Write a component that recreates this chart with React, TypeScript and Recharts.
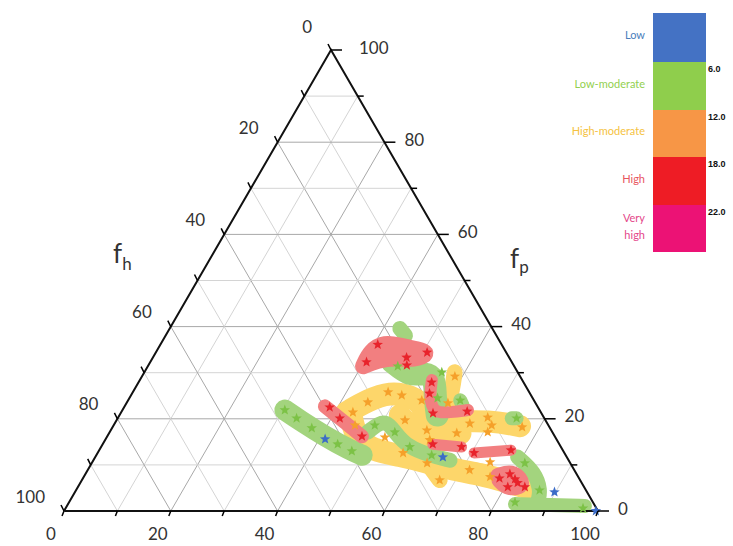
import React from 'react';
import { ScatterChart, Scatter, XAxis, YAxis } from 'recharts';

// ternary points are [f_h, f_p]; the third (bottom) share is 100 - f_h - f_p
type Pt = [number, number];

const tickValues = [0, 10, 20, 30, 40, 50, 60, 70, 80, 90, 100];
const tickLabels = ['0', '', '20', '', '40', '', '60', '', '80', '', '100'];

const levelNames = ['Low', 'Low-moderate', 'High-moderate', 'High', 'Very high'];
const levelColors = ['#4472c4', '#8fce4c', '#f79646', '#ee1c25', '#ec1275'];
const levelTextColors = ['#4a7ebb', '#92d050', '#f5c242', '#e8555e', '#e4478a'];
const thresholds = ['6.0', '12.0', '18.0', '22.0'];

const greenTracks: Pt[][] = [
  [[47.7, 21.9], [46.0, 19.7], [43.0, 16.2], [39.8, 13.2], [38.1, 12.1]],
  [[17.3, 39.6], [17.0, 38.1]],
  [[22.3, 32.3], [20.6, 29.2], [17.4, 30.1], [16.1, 28.8], [18.0, 25.1], [19.7, 20.8]],
  [[34.6, 17.1], [29.9, 20.1], [29.5, 17.1], [28.7, 13.9], [25.5, 12.1], [22.2, 11.0]],
  [[6.1, 20.1], [5.2, 20.1]],
  [[13.8, 24.0], [13.9, 22.9]],
  [[9.2, 11.7], [7.6, 8.4], [8.5, 4.5], [10.0, 2.4]],
  [[14.8, 1.5], [8.4, 1.3], [1.9, 1.1]],
];
const greenWidths = [21, 15, 23, 15, 14, 14, 15, 14];

const yellowTracks: Pt[][] = [
  [[36.3, 21.4], [31.1, 24.0], [26.1, 25.8], [22.4, 24.9], [21.1, 22.7], [22.0, 19.7], [20.6, 18.0], [17.4, 16.9]],
  [[36.1, 20.1], [37.4, 15.8], [35.7, 13.2], [31.1, 12.1], [26.5, 10.6], [22.4, 8.9], [18.1, 8.0], [14.2, 6.5], [10.6, 5.0]],
  [[23.5, 19.7], [18.1, 19.3], [10.4, 19.7], [5.4, 18.4]],
  [[11.8, 30.1], [14.2, 26.2], [16.7, 22.9]],
  [[26.7, 20.8], [25.8, 18.0], [24.5, 15.8], [21.0, 15.4]],
  [[26.8, 10.4], [26.3, 6.7]],
];
const yellowWidths = [23, 23, 22, 16, 22, 16];

const redTracks: Pt[][] = [
  [[28.3, 31.4], [25.3, 34.8], [21.6, 36.6], [19.2, 35.9], [16.2, 35.1], [14.4, 34.2], [18.0, 32.7], [21.4, 33.3], [24.9, 32.7], [28.3, 31.4]],
  [[39.8, 22.7], [38.3, 20.1], [36.1, 16.2]],
  [[16.9, 28.4], [19.0, 25.1], [20.3, 21.2], [17.0, 21.4], [13.4, 21.9]],
  [[23.7, 14.5], [18.6, 13.9]],
  [[16.9, 12.6], [9.7, 13.2]],
  [[14.9, 7.6], [11.4, 8.7], [10.8, 5.4], [14.5, 4.8], [15.1, 6.7]],
];
const redWidths = [16, 14, 12, 11, 11, 16];

const redStars: Pt[] = [
  [23.2, 36.1], [27.2, 32.3], [19.2, 33.3], [14.8, 34.4], [20.0, 31.6],
  [39.0, 22.5], [38.3, 20.1], [36.1, 16.2],
  [17.2, 27.9], [18.8, 25.5], [20.3, 21.2], [13.7, 21.6],
  [23.7, 14.5], [18.6, 13.9], [16.9, 12.6], [9.7, 13.2],
  [14.9, 7.1], [12.5, 8.0], [12.0, 6.1], [11.1, 5.2], [14.3, 5.2], [12.1, 6.9],
];
const orangeStars: Pt[] = [
  [35.2, 21.4], [31.3, 23.6], [26.4, 25.8], [24.2, 25.1], [21.0, 24.0], [26.3, 19.7],
  [36.2, 18.6], [31.9, 16.0], [30.2, 12.6], [23.3, 17.5], [23.8, 15.4], [18.0, 16.9],
  [12.2, 29.2], [16.4, 23.4], [14.5, 19.0], [10.5, 20.3], [10.6, 18.6], [12.1, 17.1],
  [5.1, 18.2], [26.8, 10.4], [26.3, 6.7], [19.6, 8.9], [14.9, 10.6], [16.5, 7.4],
];
const greenStars: Pt[] = [
  [47.7, 21.9], [46.4, 20.1], [44.6, 18.0], [41.5, 14.5], [39.6, 13.0],
  [21.8, 31.4], [14.2, 30.1], [17.8, 24.5],
  [32.5, 18.6], [29.5, 17.1], [28.3, 13.9], [25.1, 12.1],
  [13.8, 24.0], [5.2, 20.1], [8.5, 10.4], [8.7, 4.5], [14.6, 1.9], [2.5, 0.6],
];
const blueStars: Pt[] = [[43.3, 15.6], [23.2, 11.7], [6.1, 4.1], [0.4, 0]];

const SQ = Math.sqrt(3) / 2;
const toXY = ([fh, fp]: Pt) => ({ x: 100 - fh - fp / 2, y: fp * SQ });

const BAND = { green: '#a3d47e', yellow: '#fdd66a', red: '#f27f80' };
const STAR = { green: '#7cc246', orange: '#f5a02a', red: '#e8232b', blue: '#3b6cc8' };
const FONT = 'Lato, "Open Sans", sans-serif';

// grid: constant f_p, constant f_h, constant bottom share
const gridLines = tickValues.slice(1, -1).flatMap((k) => [
  { k, pts: [toXY([100 - k, k]), toXY([0, k])] },
  { k, pts: [toXY([k, 0]), toXY([k, 100 - k])] },
  { k, pts: [toXY([100 - k, 0]), toXY([0, 100 - k])] },
]);
const edges = [toXY([100, 0]), toXY([0, 0]), toXY([0, 100]), toXY([100, 0])];

const bottomTicks = tickValues.map((v, i) => ({ ...toXY([100 - v, 0]), v, label: tickLabels[i] }));
const leftTicks = tickValues.map((v, i) => ({ ...toXY([v, 100 - v]), v, label: tickLabels[i] }));
const rightTicks = tickValues.map((v, i) => ({ ...toXY([0, v]), v, label: tickLabels[i] }));

const starPoints = (cx: number, cy: number, r: number) => {
  const pts: string[] = [];
  for (let i = 0; i < 10; i++) {
    const rad = i % 2 === 0 ? r : r * 0.42;
    const a = -Math.PI / 2 + (i * Math.PI) / 5;
    pts.push(`${(cx + rad * Math.cos(a)).toFixed(1)},${(cy + rad * Math.sin(a)).toFixed(1)}`);
  }
  return pts.join(' ');
};

const Empty = () => <g />;
const starShape = (color: string) => (p: any) =>
  p.cx == null ? <g /> : <polygon points={starPoints(p.cx, p.cy, 5.5)} fill={color} />;

const labelStyle = { fontFamily: FONT, fontSize: 17, fill: '#333' };

const BottomTick = (p: any) => (
  <g>
    <line x1={p.cx} y1={p.cy} x2={p.cx - 2} y2={p.cy + 5} stroke="#000" strokeWidth={1.5} />
    {p.payload.label && (
      <text x={p.cx - 13} y={p.cy + 22} textAnchor="middle" dominantBaseline="central" {...labelStyle}>
        {p.payload.label}
      </text>
    )}
  </g>
);
const LeftTick = (p: any) => (
  <g>
    <line x1={p.cx} y1={p.cy} x2={p.cx - 3} y2={p.cy - 6} stroke="#000" strokeWidth={1.5} />
    {p.payload.label && (
      <text x={p.cx - 19} y={p.cy - (p.payload.v === 0 ? 24 : 15)} textAnchor="end" dominantBaseline="central" {...labelStyle}>
        {p.payload.label}
      </text>
    )}
  </g>
);
const RightTick = (p: any) => (
  <g>
    <line x1={p.cx} y1={p.cy} x2={p.cx + (p.payload.label ? 11 : 6)} y2={p.cy} stroke="#000" strokeWidth={1.5} />
    {p.payload.label && (
      <text x={p.cx + (p.payload.v === 100 ? 28 : 20)} y={p.cy - 3} textAnchor="start" dominantBaseline="central" {...labelStyle}>
        {p.payload.label}
      </text>
    )}
  </g>
);

const band = (tracks: Pt[][], widths: number[], color: string, key: string) =>
  tracks.map((t, i) => (
    <Scatter
      key={key + i}
      data={t.map(toXY)}
      shape={Empty}
      line={{ stroke: color, strokeWidth: widths[i], strokeLinecap: 'round', strokeLinejoin: 'round', fill: 'none' }}
      lineJointType="basis"
      isAnimationActive={false}
    />
  ));

const segTop = [13, 62, 110, 157, 205, 252];

export default function App() {
  return (
    <div style={{ position: 'absolute', left: 0, top: 0, width: 733, height: 546, background: '#fff' }}>
      <ScatterChart width={733} height={546} margin={{ top: 50, right: 135, bottom: 35, left: 64 }}>
        <XAxis type="number" dataKey="x" domain={[0, 100]} hide />
        <YAxis type="number" dataKey="y" domain={[0, 86.6]} hide />
        {gridLines.map((g, i) => (
          <Scatter
            key={'g' + i}
            data={g.pts}
            shape={Empty}
            line={{ stroke: g.k % 20 === 0 ? '#a8a8a8' : '#d4d4d4', strokeWidth: 1 }}
            isAnimationActive={false}
          />
        ))}
        {band(yellowTracks, yellowWidths, BAND.yellow, 'y')}
        {band(greenTracks, greenWidths, BAND.green, 'gr')}
        {band(redTracks, redWidths, BAND.red, 'r')}
        <Scatter data={edges} shape={Empty} line={{ stroke: '#111', strokeWidth: 2, strokeLinejoin: 'miter' }} isAnimationActive={false} />
        <Scatter data={greenStars.map(toXY)} shape={starShape(STAR.green)} isAnimationActive={false} />
        <Scatter data={orangeStars.map(toXY)} shape={starShape(STAR.orange)} isAnimationActive={false} />
        <Scatter data={redStars.map(toXY)} shape={starShape(STAR.red)} isAnimationActive={false} />
        <Scatter data={blueStars.map(toXY)} shape={starShape(STAR.blue)} isAnimationActive={false} />
        <Scatter data={bottomTicks} shape={BottomTick} isAnimationActive={false} />
        <Scatter data={leftTicks} shape={LeftTick} isAnimationActive={false} />
        <Scatter data={rightTicks} shape={RightTick} isAnimationActive={false} />
      </ScatterChart>
      <svg width={733} height={546} style={{ position: 'absolute', left: 0, top: 0, pointerEvents: 'none' }}>
        <text x={113} y={263} fontFamily={FONT} fontSize={26} fill="#333">
          f<tspan fontSize={17} dy={7}>h</tspan>
        </text>
        <text x={510} y={268} fontFamily={FONT} fontSize={26} fill="#333">
          f<tspan fontSize={17} dy={5}>p</tspan>
        </text>
        {levelColors.map((c, i) => (
          <rect key={c} x={653} y={segTop[i]} width={53} height={segTop[i + 1] - segTop[i]} fill={c} />
        ))}
        {levelNames.map((n, i) => {
          const words = n === 'Very high' ? ['Very', 'high'] : [n];
          const mid = (segTop[i] + segTop[i + 1]) / 2 - 3;
          return words.map((w, j) => (
            <text
              key={n + j}
              x={645}
              y={mid + (j - (words.length - 1) / 2) * 17}
              textAnchor="end"
              dominantBaseline="central"
              fontFamily={FONT}
              fontSize={11}
              fill={levelTextColors[i]}
            >
              {w}
            </text>
          ));
        })}
        {thresholds.map((t, i) => (
          <text key={t} x={708} y={segTop[i + 1] + 7} dominantBaseline="central" fontFamily="'Liberation Sans', Arial, sans-serif" fontWeight="bold" fontSize={9} fill="#111">
            {t}
          </text>
        ))}
      </svg>
    </div>
  );
}
